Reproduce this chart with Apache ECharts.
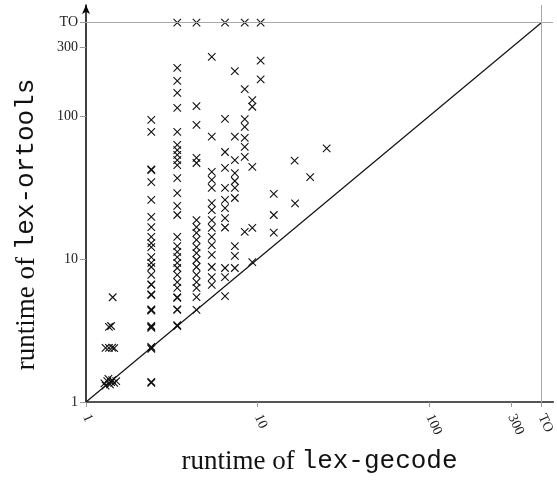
<!DOCTYPE html>
<html>
<head>
<meta charset="utf-8">
<script src="https://cdn.jsdelivr.net/npm/echarts@6/dist/echarts.min.js"></script>
<style>
  html, body { margin: 0; padding: 0; background: #fff; }
  #main { width: 557px; height: 483px; }
</style>
</head>
<body>
<div id="main"></div>
<script>
// timeout value (shown as "TO")
const TO = 450;
const tickValues = [1, 10, 100, 300, TO];

// columns of points: x value of the column, then the y values (repeats make the bold marks)
const col1x = [1.28, 1.33, 1.38, 1.42, 1.46, 1.35, 1.4, 1.5, 1.3, 1.3, 1.36, 1.42, 1.46, 1.36, 1.4, 1.43];
const col1y = [1.35, 1.4, 1.33, 1.42, 1.36, 1.45, 1.38, 1.4, 1.3, 2.39, 2.39, 2.4, 2.38, 3.35, 3.4, 5.4];

const col2x = 2.4;
const col2y = [93.8, 77.3, 41.9, 42.3, 34.5, 25.9, 19.7, 16.7, 14.3, 12.9, 12.1, 10.3, 9.38, 8.79, 7.73,
               6.58, 6.65, 5.6, 5.65, 4.4, 4.45, 4.35, 3.35, 3.4, 3.3, 2.39, 2.43, 2.35, 1.36, 1.38];

const col3x = 3.4;
const col3y = [TO, 217, 176, 145, 114, 77.3, 62.7, 57.8, 53.4, 49.2, 45.4, 36.8, 28.9, 23.5, 20.3,
               14.3, 12.3, 11.2, 10.3, 9.38, 8.65, 7.73, 6.9, 6.27, 5.34, 5.4, 4.4, 4.45, 3.4, 3.45];

const col4x = 4.4;
const col4y = [TO, 117, 86.5, 50.9, 46.9, 18.7, 16.7, 15.2, 13.6, 12.1, 11.0, 9.84, 8.79, 7.73, 6.9,
               6.27, 5.42, 4.4];

const col5x = 5.4;
const col5y = [259, 71.6, 40.6, 35.7, 31.4, 24.6, 22.0, 18.7, 16.5, 14.3, 12.5, 10.7, 8.79, 7.48, 6.58];

const col6x = 6.45;
const col6y = [TO, 95.3, 56, 43.3, 31.4, 25.9, 22.7, 19.3, 16.6, 8.65, 7.48, 5.5];

const col7x = 7.36;
const col7y = [206, 71.6, 49.2, 39.9, 35.1, 31.4, 26.7, 12.3, 10.5, 8.65];

const col8x = 8.4;
const col8y = [TO, 154, 95, 84, 70.2, 60.7, 51.7, 15.5];

const col9x = 9.3;
const col9y = [129, 116, 44, 16.5, 9.5];

const col10x = 10.4;
const col10y = [TO, 244, 180];

// the few points to the right of the columns
const others = [[12.4, 28.5], [12.4, 20.3], [12.4, 15.3], [16.4, 48.7], [16.5, 24.5], [20.2, 37.3], [25.2, 59.4]];

var points = [];
col1x.forEach(function (x, i) { points.push([x, col1y[i]]); });
[[col2x, col2y], [col3x, col3y], [col4x, col4y], [col5x, col5y], [col6x, col6y],
 [col7x, col7y], [col8x, col8y], [col9x, col9y], [col10x, col10y]].forEach(function (c) {
    c[1].forEach(function (y) { points.push([c[0], y]); });
});
others.forEach(function (p) { points.push(p); });

var myChart = echarts.init(document.getElementById('main'));

var labelFmt = function (v) {
    return v === TO ? 'TO' : String(v);
};

var nameRich = {
    a: { fontFamily: 'Liberation Serif', fontSize: 27, color: '#111' },
    b: { fontFamily: 'Liberation Mono', fontSize: 26, color: '#111' }
};

option = {
    animation: false,
    grid: { left: 86, right: 0, top: 5, bottom: 81 },
    xAxis: {
        type: 'log',
        min: 1,
        max: 525,
        name: '{a|runtime of }{b|lex-gecode}',
        nameLocation: 'middle',
        nameGap: 46,
        nameTextStyle: { rich: nameRich },
        axisLine: { lineStyle: { color: '#555', width: 2 } },
        axisTick: { show: true, customValues: tickValues, length: 5, lineStyle: { color: '#999' } },
        axisLabel: {
            customValues: tickValues,
            formatter: labelFmt,
            rotate: -65,
            margin: 13,
            fontFamily: 'Liberation Serif',
            fontSize: 14,
            color: '#222'
        },
        splitLine: { show: false },
        minorTick: { show: false }
    },
    yAxis: {
        type: 'log',
        min: 1,
        max: 597,
        name: '{a|runtime of }{b|lex-ortools}',
        nameLocation: 'middle',
        nameGap: 46,
        nameTextStyle: { rich: nameRich, padding: [0, 42, 0, 0] },
        axisLine: { symbol: ['none', 'arrow'], symbolSize: [6, 9], lineStyle: { color: '#000', width: 1.5 } },
        axisTick: { show: true, customValues: tickValues, length: 6, lineStyle: { color: '#999' } },
        axisLabel: {
            customValues: tickValues,
            formatter: labelFmt,
            fontFamily: 'Liberation Serif',
            fontSize: 14,
            color: '#222'
        },
        splitLine: { show: false },
        minorTick: { show: false }
    },
    series: [{
        type: 'line',
        data: [[1, 1], [TO, TO]],
        symbol: 'none',
        lineStyle: { color: '#111', width: 1.2 },
        markLine: {
            silent: true,
            symbol: ['none', 'none'],
            label: { show: false },
            lineStyle: { color: '#aaa', width: 1, type: 'solid' },
            data: [{ yAxis: TO }, { xAxis: TO }]
        },
        z: 1
    }, {
        type: 'scatter',
        data: points,
        symbol: 'path://M0 0L10 10M10 0L0 10',
        symbolSize: 7.5,
        itemStyle: { color: 'transparent', borderColor: '#111', borderWidth: 1.1, opacity: 1 },
        z: 3
    }]
};

myChart.setOption(option);
window.addEventListener("resize", function () {
    myChart.resize();
});
</script>
</body>
</html>
